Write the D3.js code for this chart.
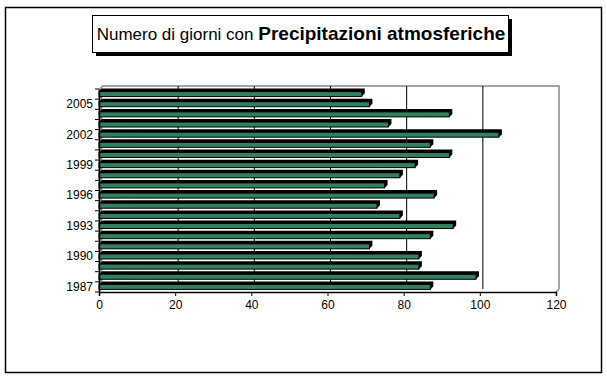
<!DOCTYPE html>
<html>
<head>
<meta charset="utf-8">
<script src="https://cdn.jsdelivr.net/npm/d3@7"></script>
<style>
  body { margin: 0; background: #fff; }
  svg { display: block; font-family: "Liberation Sans", Arial, sans-serif; }
</style>
</head>
<body>
<div id="chart"></div>
<script>
// Anni e giorni di pioggia
const years = d3.range(1987, 2007);
const days = [87, 99, 84, 84, 71, 87, 93, 79, 73, 88, 75, 79, 83, 92, 87, 105, 76, 92, 71, 69];
const xTicks = [0, 20, 40, 60, 80, 100, 120];
const labelYears = [1987, 1990, 1993, 1996, 1999, 2002, 2005];

const size = { width: 607, height: 380 };
const depth = { dx: 3, dy: -3 };

const svg = d3.select('#chart').append('svg')
    .attr('width', size.width)
    .attr('height', size.height);

// cornice esterna
svg.append('rect')
    .attr('x', 5.5).attr('y', 7.5)
    .attr('width', 596).attr('height', 365)
    .attr('fill', 'none').attr('stroke', '#000').attr('stroke-width', 1.5);

// titolo con ombra
svg.append('rect')
    .attr('x', 96).attr('y', 19).attr('width', 416).attr('height', 37)
    .attr('fill', '#000');
svg.append('rect')
    .attr('x', 92.5).attr('y', 15.5).attr('width', 416).attr('height', 37)
    .attr('fill', '#fff').attr('stroke', '#000').attr('stroke-width', 1);

let title = svg.append('text')
    .attr('x', 301).attr('y', 40)
    .attr('text-anchor', 'middle');
title.append('tspan').attr('font-size', 17).text('Numero di giorni con ');
title.append('tspan').attr('font-size', 19).attr('font-weight', 'bold').text('Precipitazioni atmosferiche');

const xScale = d3.scaleLinear()
    .domain([0, 120])
    .range([99, 556]);

const yScale = d3.scaleBand()
    .domain(years)
    .range([292, 89]);

const plot = { left: 99, right: 556, top: 89, bottom: 292 };

// parete di fondo
svg.append('path')
    .attr('d', `M${plot.left + depth.dx},${plot.top + depth.dy}H${plot.right + depth.dx}V${plot.bottom + depth.dy}`)
    .attr('fill', 'none').attr('stroke', '#888').attr('stroke-width', 1.5);
svg.append('line')
    .attr('x1', plot.right).attr('y1', plot.bottom)
    .attr('x2', plot.right + depth.dx).attr('y2', plot.bottom + depth.dy)
    .attr('stroke', '#888').attr('stroke-width', 1.5);

// parete sinistra grigia
svg.append('path')
    .attr('d', `M${plot.left},${plot.top}L${plot.left + depth.dx},${plot.top + depth.dy}V${plot.bottom + depth.dy}L${plot.left},${plot.bottom}Z`)
    .attr('fill', '#999').attr('stroke', '#777').attr('stroke-width', 0.5);

// griglia
svg.append('g')
    .selectAll('line')
    .data(xTicks.slice(1, -1))
    .join('line')
    .attr('x1', d => xScale(d) + depth.dx).attr('x2', d => xScale(d) + depth.dx)
    .attr('y1', plot.top + depth.dy).attr('y2', plot.bottom + depth.dy)
    .attr('stroke', '#000').attr('stroke-width', 1);

// barre
const barH = 5;
const bars = svg.append('g');
bars.selectAll('path.side')
    .data(years)
    .join('path')
    .attr('class', 'side')
    .attr('d', (d, i) => {
        const y = yScale(d) + yScale.bandwidth() / 2 - barH / 2;
        const x1 = xScale(days[i]);
        return `M${xScale(0)},${y}L${xScale(0) + depth.dx},${y + depth.dy}H${x1 + depth.dx}V${y + barH + depth.dy}L${x1},${y + barH}Z`;
    })
    .attr('fill', '#000');
bars.selectAll('rect')
    .data(years)
    .join('rect')
    .attr('x', xScale(0))
    .attr('y', d => yScale(d) + yScale.bandwidth() / 2 - barH / 2)
    .attr('width', (d, i) => xScale(days[i]) - xScale(0))
    .attr('height', barH)
    .attr('fill', '#338060')
    .attr('stroke', '#000').attr('stroke-width', 1);

// asse x
const xAxis = svg.append('g')
    .attr('transform', `translate(0,${plot.bottom})`)
    .call(d3.axisBottom(xScale).tickValues(xTicks).tickSize(4).tickPadding(4));
xAxis.select('.domain').attr('stroke', '#000').attr('stroke-width', 1.5);
xAxis.selectAll('text').attr('font-size', 12).attr('fill', '#000')
    .attr('font-family', '"Liberation Sans", Arial, sans-serif');

// asse y
const yAxis = svg.append('g')
    .attr('transform', `translate(${plot.left},0)`)
    .call(d3.axisLeft(yScale).tickValues(labelYears).tickSize(0).tickPadding(6));
yAxis.select('.domain').attr('stroke', '#000').attr('stroke-width', 1.5);
yAxis.selectAll('text').attr('font-size', 12).attr('fill', '#000')
    .attr('font-family', '"Liberation Sans", Arial, sans-serif');
yAxis.selectAll('line.cat')
    .data(years.concat([2007]))
    .join('line')
    .attr('class', 'cat')
    .attr('x1', -4).attr('x2', 0)
    .attr('y1', d => d === 2007 ? plot.top : yScale(d) + yScale.bandwidth())
    .attr('y2', d => d === 2007 ? plot.top : yScale(d) + yScale.bandwidth())
    .attr('stroke', '#000');
</script>
</body>
</html>
